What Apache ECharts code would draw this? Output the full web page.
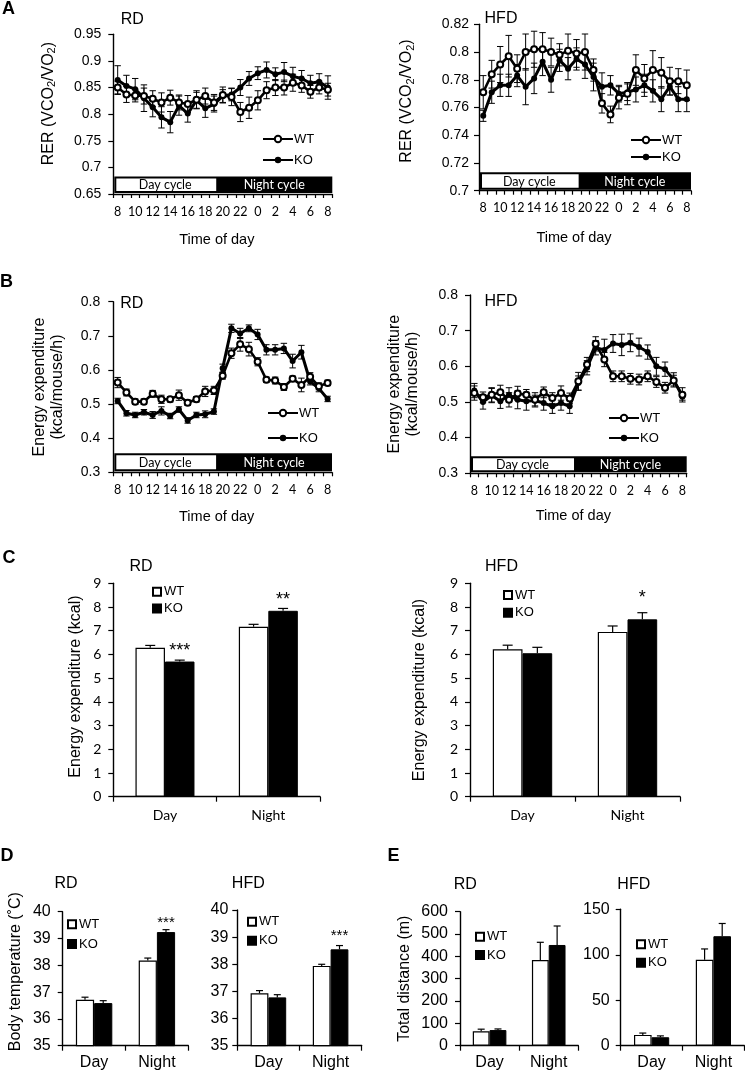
<!DOCTYPE html>
<html><head><meta charset="utf-8">
<script src="https://cdn.jsdelivr.net/npm/echarts@6/dist/echarts.min.js"></script>
<style>html,body{margin:0;padding:0;background:#fff}#c{width:745px;height:1074px}</style>
</head><body><div id="c"></div>
<script>
// ---------- DATA ----------
const hours = ['8','9','10','11','12','13','14','15','16','17','18','19','20','21','22','23','0','1','2','3','4','5','6','7','8'];
const periods = ['Day','Night'];

// A: RER
const rerTicksRD = [0.65,0.7,0.75,0.8,0.85,0.9,0.95];
const rerTicksHFD = [0.7,0.72,0.74,0.76,0.78,0.8,0.82];
const rerRD_WT = [0.850,0.837,0.835,0.834,0.829,0.822,0.831,0.822,0.819,0.827,0.834,0.822,0.836,0.832,0.804,0.812,0.826,0.845,0.850,0.850,0.859,0.854,0.842,0.850,0.846];
const rerRD_WTerr = [0.012,0.015,0.012,0.015,0.015,0.018,0.014,0.014,0.016,0.017,0.015,0.015,0.015,0.016,0.018,0.020,0.018,0.016,0.015,0.014,0.016,0.013,0.012,0.012,0.012];
const rerRD_KO = [0.864,0.853,0.847,0.830,0.813,0.794,0.785,0.816,0.801,0.826,0.811,0.819,0.834,0.837,0.850,0.867,0.877,0.883,0.875,0.879,0.871,0.867,0.858,0.861,0.850];
const rerRD_KOerr = [0.027,0.020,0.020,0.025,0.018,0.020,0.020,0.018,0.016,0.015,0.017,0.015,0.012,0.012,0.015,0.013,0.012,0.015,0.012,0.018,0.017,0.015,0.015,0.015,0.022];
const rerHFD_WT = [0.771,0.784,0.791,0.797,0.788,0.800,0.802,0.802,0.800,0.798,0.801,0.799,0.800,0.787,0.763,0.755,0.767,0.770,0.787,0.781,0.787,0.785,0.779,0.779,0.776];
const rerHFD_WTerr = [0.012,0.010,0.013,0.015,0.010,0.013,0.013,0.012,0.010,0.008,0.012,0.010,0.013,0.008,0.007,0.006,0.008,0.008,0.011,0.010,0.014,0.011,0.010,0.009,0.011];
const rerHFD_KO = [0.754,0.771,0.776,0.776,0.783,0.775,0.781,0.793,0.780,0.794,0.788,0.795,0.791,0.782,0.775,0.776,0.770,0.771,0.773,0.776,0.772,0.766,0.775,0.766,0.766];
const rerHFD_KOerr = [0.004,0.008,0.008,0.008,0.008,0.013,0.011,0.010,0.009,0.008,0.008,0.008,0.010,0.010,0.010,0.007,0.006,0.006,0.009,0.008,0.008,0.009,0.006,0.009,0.009];

// B: energy expenditure per hour
const eeTicks = [0.3,0.4,0.5,0.6,0.7,0.8];
const eeRD_WT = [0.563,0.534,0.507,0.507,0.530,0.514,0.514,0.526,0.504,0.514,0.537,0.540,0.583,0.649,0.675,0.661,0.624,0.571,0.569,0.550,0.574,0.556,0.580,0.552,0.562];
const eeRD_WTerr = [0.015,0.010,0.008,0.008,0.010,0.012,0.008,0.015,0.008,0.008,0.015,0.012,0.010,0.015,0.020,0.020,0.012,0.008,0.010,0.010,0.008,0.020,0.012,0.010,0.008];
const eeRD_KO = [0.509,0.473,0.468,0.476,0.468,0.480,0.465,0.484,0.452,0.468,0.470,0.478,0.605,0.722,0.707,0.722,0.704,0.659,0.659,0.663,0.626,0.652,0.566,0.546,0.515];
const eeRD_KOerr = [0.008,0.008,0.008,0.008,0.010,0.012,0.008,0.008,0.008,0.008,0.010,0.008,0.012,0.012,0.015,0.010,0.015,0.015,0.015,0.015,0.020,0.020,0.010,0.010,0.008];
const eeHFD_WT = [0.525,0.513,0.520,0.527,0.506,0.524,0.520,0.506,0.527,0.511,0.525,0.510,0.558,0.605,0.663,0.619,0.572,0.572,0.565,0.563,0.572,0.556,0.540,0.560,0.520];
const eeHFD_WTerr = [0.020,0.015,0.020,0.020,0.020,0.020,0.015,0.020,0.015,0.015,0.020,0.015,0.025,0.020,0.020,0.020,0.015,0.015,0.015,0.015,0.015,0.015,0.015,0.015,0.020];
const eeHFD_KO = [0.532,0.500,0.518,0.502,0.520,0.506,0.502,0.504,0.497,0.488,0.497,0.488,0.553,0.596,0.652,0.646,0.664,0.660,0.666,0.654,0.640,0.600,0.592,0.562,0.515];
const eeHFD_KOerr = [0.020,0.020,0.020,0.020,0.020,0.025,0.025,0.015,0.020,0.020,0.020,0.020,0.020,0.020,0.020,0.030,0.025,0.030,0.025,0.025,0.020,0.025,0.020,0.020,0.010];

// Day / night cycle bar (split position in category units, top value)
const cycleA_RD = {split: 11.25, top: 0.683};
const cycleA_HFD = {split: 11.25, top: 0.7133};
const cycleB_RD = {split: 11.25, top: 0.356};
const cycleB_HFD = {split: 11.5, top: 0.348};

// C: energy expenditure (kcal)
const kcalTicks = [0,1,2,3,4,5,6,7,8,9];
const kcalRD_WT = [6.28, 7.17], kcalRD_WTerr = [0.10, 0.10];
const kcalRD_KO = [5.70, 7.84], kcalRD_KOerr = [0.06, 0.10];
const kcalRD_stars = ['***', '**'];
const kcalHFD_WT = [6.22, 6.95], kcalHFD_WTerr = [0.17, 0.25];
const kcalHFD_KO = [6.05, 7.48], kcalHFD_KOerr = [0.25, 0.28];
const kcalHFD_stars = ['', '*'];

// D: body temperature
const tempTicks = [35,36,37,38,39,40];
const tempRD_WT = [36.71, 38.18], tempRD_WTerr = [0.10, 0.09];
const tempRD_KO = [36.59, 39.24], tempRD_KOerr = [0.09, 0.09];
const tempRD_stars = ['', '***'];
const tempHFD_WT = [36.93, 37.94], tempHFD_WTerr = [0.10, 0.06];
const tempHFD_KO = [36.78, 38.55], tempHFD_KOerr = [0.10, 0.14];
const tempHFD_stars = ['', '***'];

// E: total distance
const distTicksRD = [0,100,200,300,400,500,600];
const distTicksHFD = [0,50,100,150];
const distRD_WT = [65, 384], distRD_WTerr = [9, 79];
const distRD_KO = [70, 451], distRD_KOerr = [5, 85];
const distHFD_WT = [11.9, 94.4], distHFD_WTerr = [2, 12];
const distHFD_KO = [9.3, 120.4], distHFD_KOerr = [1.5, 14];

// ---------- STYLE / LAYOUT ----------
const ARIAL = '"Liberation Sans", Arial, sans-serif';
const CAL = 'Lato, "Liberation Sans", sans-serif';
const BLACK = '#000';
const boxes = [
  {l:113.3, t:34.3, r:332.3, b:194},
  {l:479, t:24.3, r:691, b:190.7},
  {l:113.3, t:301.7, r:332, b:472.3},
  {l:470, t:295, r:686.7, b:473.3},
  {l:113.3, t:583.3, r:320, b:796.7},
  {l:470, t:583.3, r:680, b:796.7},
  {l:62.7, t:911.7, r:188.3, b:1045.7},
  {l:237.3, t:910, r:361.7, b:1045.7},
  {l:460, t:911.7, r:578.3, b:1045.7},
  {l:620.7, t:909.3, r:744.3, b:1045.7}
];
const grid = boxes.map(b => ({left:b.l, top:b.t, width:b.r-b.l, height:b.b-b.t, containLabel:false, outerBoundsMode:'none'}));

const axisLine = {show:true, onZero:false, lineStyle:{color:BLACK, width:1.4}};
const tickStyle = {color:BLACK, width:1.2};
const numFmt = v => String(parseFloat(Number(v).toFixed(3)));

function yAx(gi, ticks, o) {
  return {
    type:'value', gridIndex:gi, min:ticks[0], max:ticks[ticks.length-1], interval:ticks[1]-ticks[0],
    axisLine, axisTick:{show:true, length:5, lineStyle:tickStyle}, splitLine:{show:false},
    axisLabel:{color:BLACK, fontFamily:o.font, fontSize:o.size, margin:o.margin, formatter:numFmt},
    name:o.name || '', nameLocation:'middle', nameRotate:90, nameGap:o.gap || 0, nameMoveOverlap:false,
    nameTextStyle:Object.assign({color:BLACK, fontFamily:ARIAL, fontSize:16, lineHeight:18, padding:o.pad || 0}, o.nts || {})
  };
}
function xLineAx(gi, gap, pad) {
  return {
    type:'category', gridIndex:gi, data:hours, boundaryGap:true,
    axisLine, axisTick:{show:true, interval:0, length:4, lineStyle:tickStyle},
    axisLabel:{interval:1, color:BLACK, fontFamily:CAL, fontSize:12.5, margin:11, hideOverlap:false},
    name:'Time of day', nameLocation:'middle', nameGap:gap, nameMoveOverlap:false,
    nameTextStyle:{color:BLACK, fontFamily:ARIAL, fontSize:14.5, padding:[0, pad, 0, 0]}
  };
}
function xBarAx(gi, font, size, margin) {
  return {
    type:'category', gridIndex:gi, data:periods, boundaryGap:true,
    axisLine, axisTick:{show:true, length:5, lineStyle:tickStyle},
    axisLabel:{color:BLACK, fontFamily:font, fontSize:size, margin}
  };
}
const rerRich = {
  a:{fontFamily:ARIAL, fontSize:16, lineHeight:18, color:BLACK},
  s:{fontFamily:ARIAL, fontSize:11, lineHeight:11, color:BLACK, verticalAlign:'bottom'}
};
const rerName = '{a|RER (VCO}{s|2}{a|/VO}{s|2}{a|)}';

const xAxis = [
  xLineAx(0, 38, 12), xLineAx(1, 40, 22), xLineAx(2, 37, 12), xLineAx(3, 35, 10),
  xBarAx(4, CAL, 14, 12), xBarAx(5, CAL, 14, 12),
  xBarAx(6, ARIAL, 16, 9), xBarAx(7, ARIAL, 16, 9),
  xBarAx(8, ARIAL, 16, 9), xBarAx(9, ARIAL, 16, 9)
];
const yAxis = [
  yAx(0, rerTicksRD, {font:ARIAL, size:14, margin:12, name:rerName, gap:56, pad:[0,0,0,21], nts:{rich:rerRich}}),
  yAx(1, rerTicksHFD, {font:ARIAL, size:14, margin:10, name:rerName, gap:63, pad:[0,0,0,13], nts:{rich:rerRich}}),
  yAx(2, eeTicks, {font:ARIAL, size:14, margin:13, name:'Energy expenditure\n(kcal/mouse/h)', gap:47}),
  yAx(3, eeTicks, {font:ARIAL, size:14, margin:12, name:'Energy expenditure\n(kcal/mouse/h)', gap:48}),
  yAx(4, kcalTicks, {font:CAL, size:14, margin:12, name:'Energy expenditure (kcal)', gap:29, pad:[0,0,0,7]}),
  yAx(5, kcalTicks, {font:CAL, size:14, margin:12, name:'Energy expenditure (kcal)', gap:41}),
  yAx(6, tempTicks, {font:ARIAL, size:16, margin:12, name:'Body temperature (˚C)', gap:38, pad:[0,0,0,14]}),
  yAx(7, tempTicks, {font:ARIAL, size:16, margin:9}),
  yAx(8, distTicksRD, {font:ARIAL, size:16, margin:12, name:'Total distance (m)', gap:46}),
  yAx(9, distTicksHFD, {font:ARIAL, size:16, margin:11})
];

// ---------- SERIES ----------
const series = [];
function cycleSeries(gi, cyc, ymin) {
  return {
    type:'custom', xAxisIndex:gi, yAxisIndex:gi, z:1, silent:true, data:[[0, ymin]],
    renderItem(params, api) {
      const c0 = api.coord([0, ymin]), c1 = api.coord([1, ymin]);
      const step = c1[0] - c0[0];
      const yTop = api.coord([0, cyc.top])[1], yB = c0[1] - 1;
      const xL = c0[0] - step/2 + 1, xR = c0[0] + 24.5*step, xS = c0[0] + cyc.split*step;
      return {type:'group', children:[
        {type:'rect', shape:{x:xL, y:yTop, width:xR-xL, height:yB-yTop}, style:{fill:BLACK}},
        {type:'rect', shape:{x:xL+2, y:yTop+2, width:xS-xL-2, height:yB-yTop-4}, style:{fill:'#fff'}},
        {type:'text', style:{text:'Day cycle', x:(xL+xS)/2, y:(yTop+yB)/2+0.5, align:'center', verticalAlign:'middle', font:'12.5px Lato, sans-serif', fill:BLACK}},
        {type:'text', style:{text:'Night cycle', x:(xS+xR)/2, y:(yTop+yB)/2+0.5, align:'center', verticalAlign:'middle', font:'12.5px Lato, sans-serif', fill:'#fff'}}
      ]};
    }
  };
}
function lineErr(gi, mean, err, z) {
  return {
    type:'custom', xAxisIndex:gi, yAxisIndex:gi, z, silent:true,
    data: mean.map((m, i) => [i, m - err[i], m + err[i]]),
    renderItem(params, api) {
      const lo = api.coord([api.value(0), api.value(1)]);
      const hi = api.coord([api.value(0), api.value(2)]);
      const w = 3.2, st = {stroke:BLACK, lineWidth:1};
      return {type:'group', children:[
        {type:'line', shape:{x1:lo[0], y1:lo[1], x2:hi[0], y2:hi[1]}, style:st},
        {type:'line', shape:{x1:lo[0]-w, y1:lo[1], x2:lo[0]+w, y2:lo[1]}, style:st},
        {type:'line', shape:{x1:hi[0]-w, y1:hi[1], x2:hi[0]+w, y2:hi[1]}, style:st}
      ]};
    }
  };
}
function linePanel(gi, wt, wtErr, ko, koErr, cyc, ymin) {
  series.push(cycleSeries(gi, cyc, ymin));
  series.push(lineErr(gi, ko, koErr, 2));
  series.push(lineErr(gi, wt, wtErr, 2));
  series.push({type:'line', name:'KO', xAxisIndex:gi, yAxisIndex:gi, data:ko, z:3,
    symbol:'circle', symbolSize:6, showAllSymbol:true,
    lineStyle:{color:BLACK, width:3}, itemStyle:{color:BLACK}});
  series.push({type:'line', name:'WT', xAxisIndex:gi, yAxisIndex:gi, data:wt, z:4,
    symbol:'emptyCircle', symbolSize:6, showAllSymbol:true,
    lineStyle:{color:BLACK, width:2.6}, itemStyle:{color:BLACK, borderWidth:1.1}});
}
linePanel(0, rerRD_WT, rerRD_WTerr, rerRD_KO, rerRD_KOerr, cycleA_RD, rerTicksRD[0]);
linePanel(1, rerHFD_WT, rerHFD_WTerr, rerHFD_KO, rerHFD_KOerr, cycleA_HFD, rerTicksHFD[0]);
linePanel(2, eeRD_WT, eeRD_WTerr, eeRD_KO, eeRD_KOerr, cycleB_RD, eeTicks[0]);
linePanel(3, eeHFD_WT, eeHFD_WTerr, eeHFD_KO, eeHFD_KOerr, cycleB_HFD, eeTicks[0]);

function barErr(gi, means, errs, side, barW, capW, stars, starSize, starGap) {
  return {
    type:'custom', xAxisIndex:gi, yAxisIndex:gi, z:5, silent:true,
    data: means.map((m, i) => [i, m, m + errs[i]]),
    renderItem(params, api) {
      const b = api.coord([api.value(0), api.value(1)]);
      const t = api.coord([api.value(0), api.value(2)]);
      const x = b[0] + side * barW / 2;
      const st = {stroke:BLACK, lineWidth:1.2};
      const ch = [
        {type:'line', shape:{x1:x, y1:b[1], x2:x, y2:t[1]}, style:st},
        {type:'line', shape:{x1:x-capW/2, y1:t[1], x2:x+capW/2, y2:t[1]}, style:st}
      ];
      const s = stars ? stars[params.dataIndex] : '';
      if (s) ch.push({type:'text', style:{text:s, x, y:t[1] - starGap + 0.23*starSize,
        align:'center', verticalAlign:'middle', font:starSize + 'px ' + ARIAL, fill:BLACK}});
      return {type:'group', children:ch};
    }
  };
}
function barPanel(gi, wt, wtErr, ko, koErr, stars, barW, capW, starSize, starGap) {
  series.push({type:'bar', name:'WT ', xAxisIndex:gi, yAxisIndex:gi, data:wt, barWidth:barW, barGap:'0%',
    itemStyle:{color:'#fff', borderColor:BLACK, borderWidth:1.2}, z:2});
  series.push({type:'bar', name:'KO ', xAxisIndex:gi, yAxisIndex:gi, data:ko, barWidth:barW, barGap:'0%',
    itemStyle:{color:BLACK, borderColor:BLACK, borderWidth:1}, z:2});
  series.push(barErr(gi, wt, wtErr, -1, barW, capW, null, starSize, starGap));
  series.push(barErr(gi, ko, koErr, 1, barW, capW, stars, starSize, starGap));
}
barPanel(4, kcalRD_WT, kcalRD_WTerr, kcalRD_KO, kcalRD_KOerr, kcalRD_stars, 29.5, 10, 18, 13);
barPanel(5, kcalHFD_WT, kcalHFD_WTerr, kcalHFD_KO, kcalHFD_KOerr, kcalHFD_stars, 29.7, 10, 18, 19);
barPanel(6, tempRD_WT, tempRD_WTerr, tempRD_KO, tempRD_KOerr, tempRD_stars, 18.2, 7, 15, 10);
barPanel(7, tempHFD_WT, tempHFD_WTerr, tempHFD_KO, tempHFD_KOerr, tempHFD_stars, 17.8, 7, 15, 13.5);
barPanel(8, distRD_WT, distRD_WTerr, distRD_KO, distRD_KOerr, null, 16.8, 7, 15, 10);
barPanel(9, distHFD_WT, distHFD_WTerr, distHFD_KO, distHFD_KOerr, null, 17.6, 7, 15, 10);

// ---------- LEGENDS ----------
function lineLegend(left, c1, spacing) {
  return {orient:'vertical', left, top:c1-7, padding:0, itemGap:spacing-14, itemWidth:30, itemHeight:8,
    data:['WT','KO'], selectedMode:false,
    textStyle:{fontFamily:ARIAL, fontSize:13, color:BLACK, lineHeight:14, padding:[0,0,0,-4]}};
}
function barLegend(left, c1, spacing) {
  return {orient:'vertical', left, top:c1-7, padding:0, itemGap:spacing-14, itemWidth:8, itemHeight:8,
    icon:'rect', data:['WT ','KO '], selectedMode:false, formatter:n => n.trim(),
    textStyle:{fontFamily:ARIAL, fontSize:13, color:BLACK, lineHeight:14, padding:[0,0,0,-2]}};
}
const legend = [
  lineLegend(262, 139, 21), lineLegend(630, 140, 17), lineLegend(267, 413, 25), lineLegend(608, 418, 20),
  barLegend(152, 591.7, 16.7), barLegend(503, 595, 17.7),
  barLegend(67, 924.3, 19.7), barLegend(247, 921.7, 19),
  barLegend(475, 936.7, 18.3), barLegend(636, 944.3, 18.4)
];

// ---------- TEXT LABELS ----------
function txt(text, x, y, size, bold) {
  return {type:'text', x, y, style:{text, align:'center', verticalAlign:'middle',
    font:(bold ? 'bold ' : '') + size + 'px ' + ARIAL, fill:BLACK}};
}
const graphic = [
  txt('A', 8.5, 9, 18, true), txt('B', 6.5, 282.5, 18, true), txt('C', 9, 558.5, 18, true),
  txt('D', 7, 856.5, 18, true), txt('E', 393.5, 856.5, 18, true),
  txt('RD', 132.3, 19.3, 16), txt('HFD', 501, 19, 16),
  txt('RD', 131.7, 304, 16), txt('HFD', 501, 301.7, 16),
  txt('RD', 141, 566.7, 16), txt('HFD', 501.5, 566.7, 16),
  txt('RD', 66, 883.3, 16), txt('HFD', 248.3, 883.3, 16),
  txt('RD', 465.3, 884.3, 16), txt('HFD', 633.8, 884.3, 16)
];

const chart = echarts.init(document.getElementById('c'), null, {renderer:'canvas'});
chart.setOption({animation:false, backgroundColor:'#fff', grid, xAxis, yAxis, series, legend, graphic, tooltip:{show:false}});
</script></body></html>
